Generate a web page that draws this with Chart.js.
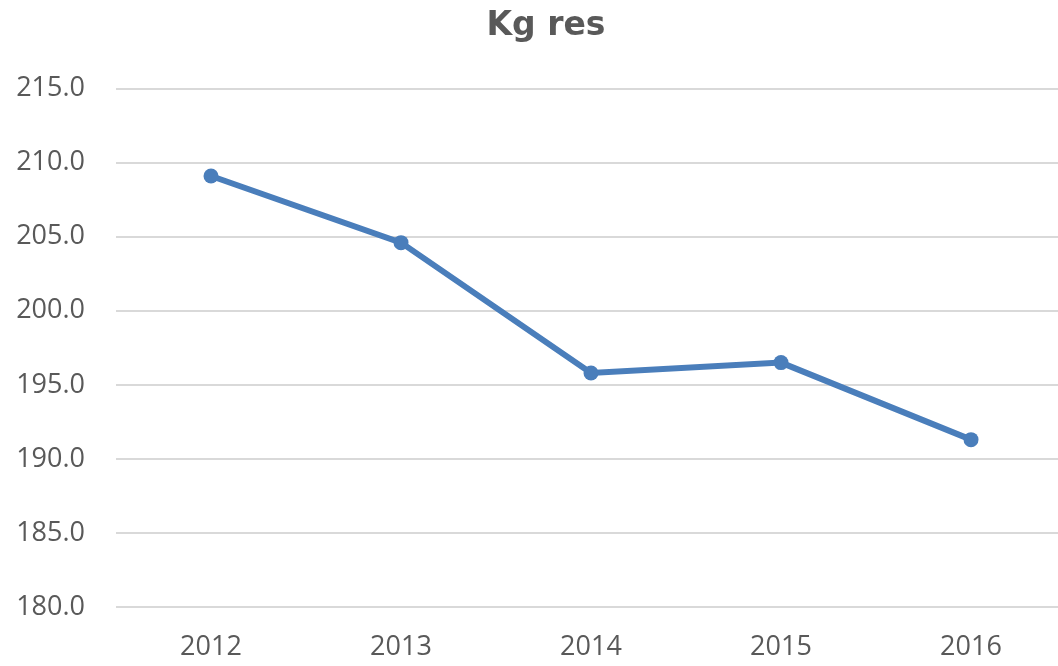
<!DOCTYPE html>
<html>
<head>
<meta charset="utf-8">
<script src="https://cdn.jsdelivr.net/npm/chart.js@4"></script>
<style>
  html, body { margin: 0; padding: 0; background: #fff; overflow: hidden; }
  #wrap { width: 1092px; height: 666px; }
</style>
</head>
<body>
<div id="wrap"><canvas id="chart" width="1092" height="666"></canvas></div>
<script>
const years = ['2012', '2013', '2014', '2015', '2016'];
const kgRes = [209.1, 204.6, 195.8, 196.5, 191.3];
const yMin = 180;
const yMax = 215;
const yStep = 5;

const labelColor = '#595959';
const lineColor = '#4A7EBB';

document.addEventListener('DOMContentLoaded', function() {
    const ctx = document.getElementById('chart').getContext('2d');
    new Chart(ctx, {
        type: 'line',
        data: {
            labels: years,
            datasets: [{
                label: 'Kg res',
                data: kgRes,
                borderColor: lineColor,
                backgroundColor: lineColor,
                borderWidth: 6,
                pointRadius: 7.5,
                pointBorderWidth: 0,
                pointHoverRadius: 7.5,
                tension: 0,
                fill: false
            }]
        },
        options: {
            responsive: false,
            animation: false,
            plugins: {
                legend: { display: false },
                tooltip: { enabled: false },
                title: {
                    display: true,
                    text: 'Kg res',
                    color: labelColor,
                    font: { family: 'DejaVu Sans', size: 33, weight: 'bold' },
                    padding: { top: 7, bottom: 42 }
                }
            },
            scales: {
                x: {
                    offset: true,
                    grid: { display: false, drawTicks: false },
                    border: { display: false },
                    afterFit: function(axis) { axis.height = 59; },
                    ticks: {
                        color: labelColor,
                        font: { family: 'Open Sans', size: 27 },
                        padding: 24,
                        maxRotation: 0
                    }
                },
                y: {
                    min: yMin,
                    max: yMax,
                    grid: { color: '#D9D9D9', lineWidth: 2, drawTicks: false },
                    border: { display: false },
                    afterFit: function(axis) { axis.width = 116; },
                    ticks: {
                        stepSize: yStep,
                        color: labelColor,
                        font: { family: 'Open Sans', size: 27 },
                        padding: 31,
                        callback: function(v) { return v.toFixed(1); }
                    }
                },
                // empty right axis just to keep the plot's right edge at 1066
                yRight: {
                    position: 'right',
                    grid: { display: false, drawTicks: false },
                    border: { display: false },
                    ticks: { display: false },
                    afterFit: function(axis) { axis.width = 26; }
                }
            }
        }
    });
});
</script>
</body>
</html>
